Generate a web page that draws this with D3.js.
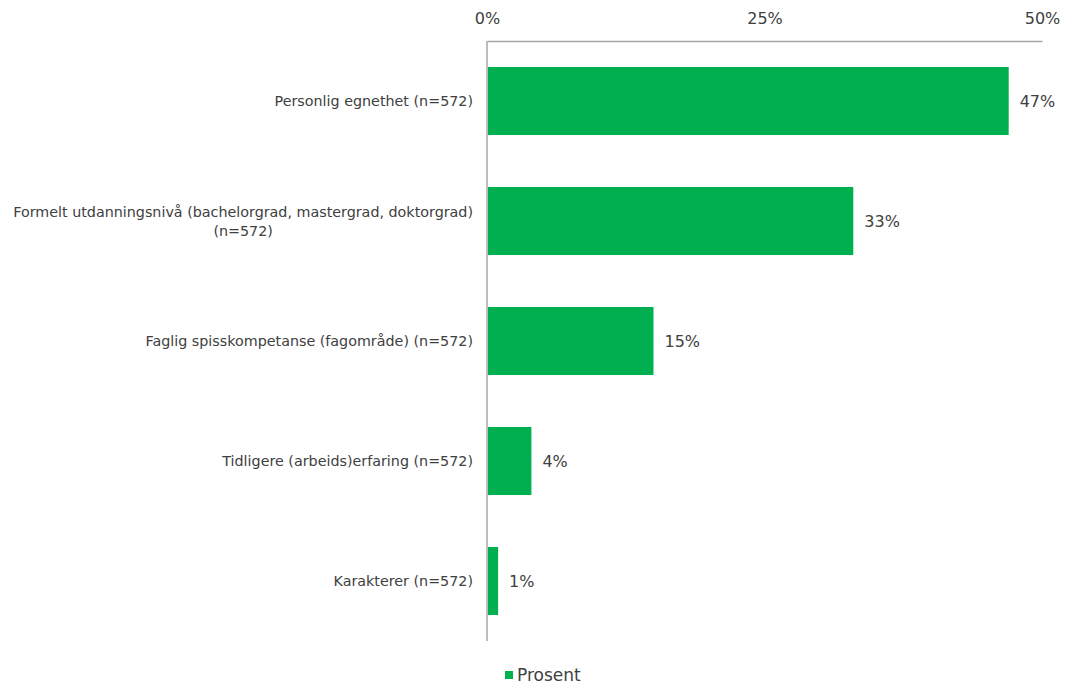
<!DOCTYPE html>
<html>
<head>
<meta charset="utf-8">
<script src="https://cdn.jsdelivr.net/npm/d3@7"></script>
<style>
  html, body { margin: 0; padding: 0; background: #fff; }
  svg { display: block; font-family: "DejaVu Sans", Verdana, sans-serif; }
</style>
</head>
<body>
<svg id="chart" width="1066" height="684"></svg>
<script>
// Categories (each entry is a list of label lines)
const categories = [
  ["Personlig egnethet (n=572)"],
  ["Formelt utdanningsnivå (bachelorgrad, mastergrad, doktorgrad)", "(n=572)"],
  ["Faglig spisskompetanse (fagområde) (n=572)"],
  ["Tidligere (arbeids)erfaring (n=572)"],
  ["Karakterer (n=572)"]
];
const values = [47, 33, 15, 4, 1];
const xTicks = [0, 25, 50];
const seriesName = "Prosent";

const svg = d3.select("#chart");
const margin = { left: 487, right: 24, top: 41, bottom: 43 };
const W = 1066, H = 684;
const green = "#00b050";
const textColor = "#404040";
const axisColor = "#a6a6a6";

const x = d3.scaleLinear().domain([0, 50]).range([margin.left, W - margin.right]);
const y = d3.scaleBand().domain(d3.range(categories.length))
  .range([margin.top, H - margin.bottom]).paddingInner(0.433).paddingOuter(0.2165);

// Top axis
const xAxis = d3.axisTop(x).tickValues(xTicks).tickFormat(d => d + "%").tickSize(0).tickPadding(17);
const gx = svg.append("g").attr("transform", `translate(0,${margin.top})`).call(xAxis);
gx.select(".domain").attr("stroke", axisColor).attr("stroke-width", 1.5);
gx.selectAll("text").attr("fill", textColor).style("font-size", "16px").style("font-family", "DejaVu Sans, Verdana, sans-serif");

// Left category axis line
svg.append("line")
  .attr("x1", x(0)).attr("x2", x(0))
  .attr("y1", margin.top).attr("y2", H - margin.bottom)
  .attr("stroke", axisColor).attr("stroke-width", 1.5);

// Bars
svg.append("g").selectAll("rect").data(values).join("rect")
  .attr("x", x(0) + 1)
  .attr("y", (d, i) => y(i))
  .attr("width", d => x(d) - x(0) - 1)
  .attr("height", y.bandwidth())
  .attr("fill", green);

// Value labels
svg.append("g").selectAll("text").data(values).join("text")
  .attr("x", d => x(d) + 11)
  .attr("y", (d, i) => y(i) + y.bandwidth() / 2)
  .attr("dy", "0.35em")
  .attr("fill", textColor)
  .style("font-size", "16px")
  .text(d => d + "%");

// Category labels, lines centred on each other, block right-aligned
const lineH = 19;
const labelRight = x(0) - 14;
categories.forEach((lines, i) => {
  const g = svg.append("g");
  const cy = y(i) + y.bandwidth() / 2;
  const texts = lines.map((ln, k) => g.append("text")
    .attr("fill", textColor)
    .style("font-size", "14.3px")
    .attr("y", cy + (k - (lines.length - 1) / 2) * lineH)
    .attr("dy", "0.35em")
    .text(ln));
  const maxW = d3.max(texts, t => t.node().getComputedTextLength());
  texts.forEach(t => t.attr("text-anchor", "middle").attr("x", labelRight - maxW / 2));
});

// Legend
const lg = svg.append("g").attr("transform", `translate(505,675)`);
lg.append("rect").attr("x", 0).attr("y", -4).attr("width", 8).attr("height", 8).attr("fill", green);
lg.append("text").attr("x", 12).attr("y", 0).attr("dy", "0.35em")
  .attr("fill", textColor).style("font-size", "17px").text(seriesName);
</script>
</body>
</html>
